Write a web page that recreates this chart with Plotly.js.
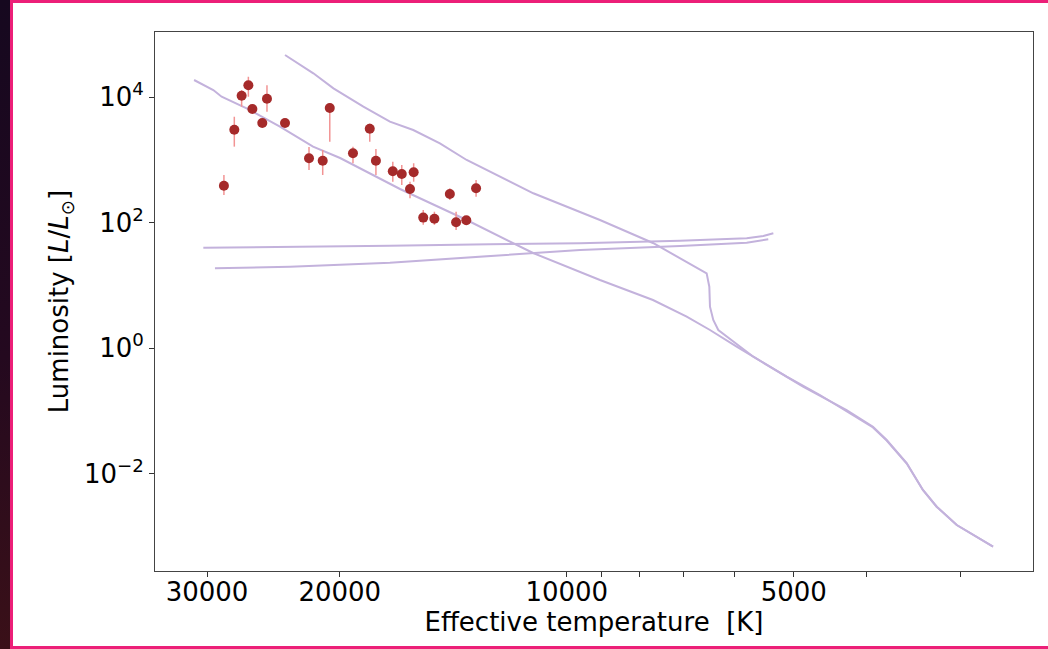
<!DOCTYPE html>
<html><head><meta charset="utf-8">
<script src="https://cdn.plot.ly/plotly-3.0.1.min.js"></script>
<style>
html,body{margin:0;padding:0;width:1048px;height:649px;overflow:hidden;background:#fff;}
#chart{position:absolute;left:0;top:0;width:1048px;height:649px;}
#strip{position:absolute;left:0;top:0;width:10px;height:649px;background:linear-gradient(180deg,#16081f,#24091f 55%,#3a1018);z-index:5;}
#frame{position:absolute;left:10px;top:0;width:1040px;height:649px;border-left:3px solid #ec1f78;border-top:3px solid #ec1f78;border-bottom:3px solid #ec1f78;box-sizing:border-box;pointer-events:none;z-index:5;}
</style></head>
<body>
<div id="chart"></div><div id="strip"></div><div id="frame"></div>
<script>
// Track A (lower, main-sequence-like)
const trackA_T = [31210,29430,28690,26580,24010,21700,19980,16640,13575,11084,9035,7685,6933,6457,5952,5375,4860,4254,3925,3764,3541,3370,3231,3039,2720];
const trackA_L = [18650,12930,10110,6609,3367,1617,1068,342.8,110.0,32.8,12.19,5.855,3.174,1.949,1.057,0.5074,0.2437,0.1037,0.05623,0.03453,0.01486,0.005521,0.002993,0.00153,0.000691];
// Track B (upper, with kink)
const trackB_T = [23640,21680,20390,18610,17160,15980,14730,13575,11074,9035,7685,6933,6523,6470,6457,6392,6295,5656,5108,4615,4254,3925,3764,3541,3370,3231,3039,2720];
const trackB_L = [46650,23850,13750,7006,4044,2982,1831,992.7,292.8,110.0,47.33,23.85,15.59,9.535,4.579,2.812,1.949,0.7323,0.3518,0.1798,0.1,0.05462,0.03391,0.01459,0.005521,0.002993,0.00153,0.000691];
// Track C (upper horizontal branch)
const trackC_T = [30340,23280,17160,12640,9603,7075,5772,5486,5321];
const trackC_L = [39.84,40.88,42.87,45.13,46.81,51.50,56.23,61.17,67.54];
// Track D (lower horizontal branch)
const trackD_T = [29280,23280,17160,12640,9603,7075,5772,5404];
const trackD_L = [18.72,19.86,22.99,29.39,36.62,42.40,47.86,54.21];

// Observed stars
const starT    = [28490,27600,26990,26440,26120,25340,24980,23640,21970,21070,20620,19210,18250,17910,17010,16550,15960,16140,15500,14980,14290,14020,13590,13190];
const starL    = [387,3015,10490,15350,6440,3855,9400,3855,1057,968,6680,1270,3126,968,656,594,632,343,120,115,285,101,109,352];
const starLhi  = [573,4850,12930,21000,7270,4330,15350,4130,1600,1432,8020,1620,3800,1486,933,826,880,448,158,149,351,149,124,476];
const starLlo  = [275,1620,7006,10100,5700,3440,5840,3600,689,573,1940,880,1940,573,448,397,448,244,92,92,229,76,92,258];

const xTicks = [30000,20000,10000,5000];
const xTickText = ['30000','20000','10000','5000'];
const xMinorTicks = [9000,8000,7000,6000,4000,3000];
const yTicks = [1e4,1e2,1,1e-2];
const yTickText = ['10<sup>4</sup>','10<sup>2</sup>','10<sup>0</sup>','10<sup>\u22122</sup>'];

const lineStyle = {color:'#c3b2dc', width:2};
const traces = [
  {x:trackA_T, y:trackA_L, mode:'lines', line:lineStyle, hoverinfo:'skip'},
  {x:trackB_T, y:trackB_L, mode:'lines', line:lineStyle, hoverinfo:'skip'},
  {x:trackC_T, y:trackC_L, mode:'lines', line:lineStyle, hoverinfo:'skip'},
  {x:trackD_T, y:trackD_L, mode:'lines', line:lineStyle, hoverinfo:'skip'},
  {x:starT, y:starL, mode:'markers',
   marker:{color:'#a52a2a', size:10},
   error_y:{type:'data', symmetric:false,
     array: starLhi.map((v,i)=>v-starL[i]),
     arrayminus: starL.map((v,i)=>v-starLlo[i]),
     color:'#f29494', thickness:1.5, width:0}}
];

const FF = 'DejaVu Sans, sans-serif';
const layout = {
  width:1048, height:649,
  margin:{l:155, r:15, t:32, b:78},
  paper_bgcolor:'#ffffff', plot_bgcolor:'#ffffff',
  showlegend:false,
  font:{family:FF, size:26, color:'#000'},
  xaxis:{type:'log', range:[4.5461,3.3816], autorange:false,
    tickmode:'array', tickvals:xTicks, ticktext:xTickText, ticks:'outside', ticklen:5, tickwidth:1, tickcolor:'#333',
    ticklabelstandoff:-7,
    minor:{tickmode:'array', tickvals:xMinorTicks, ticks:'outside', ticklen:5, tickwidth:1, tickcolor:'#333', showgrid:false},
    showgrid:false, zeroline:false, showline:true, linecolor:'#444', linewidth:1, mirror:true,
    tickfont:{family:FF, size:26},
    title:{text:'Effective temperature  [K]', font:{family:FF, size:26}, standoff:1}},
  yaxis:{type:'log', range:[-3.548,5.035], autorange:false,
    tickmode:'array', tickvals:yTicks, ticktext:yTickText, ticks:'outside', ticklen:5, tickwidth:1, tickcolor:'#333',
    showgrid:false, zeroline:false, showline:true, linecolor:'#444', linewidth:1, mirror:true,
    tickfont:{family:FF, size:26},
    title:{text:'Luminosity [<i>L</i>/<i>L</i><sub>\u2299</sub>]', font:{family:FF, size:26}, standoff:7}}
};
Plotly.newPlot('chart', traces, layout, {displayModeBar:false, staticPlot:true});
</script>
</body></html>
